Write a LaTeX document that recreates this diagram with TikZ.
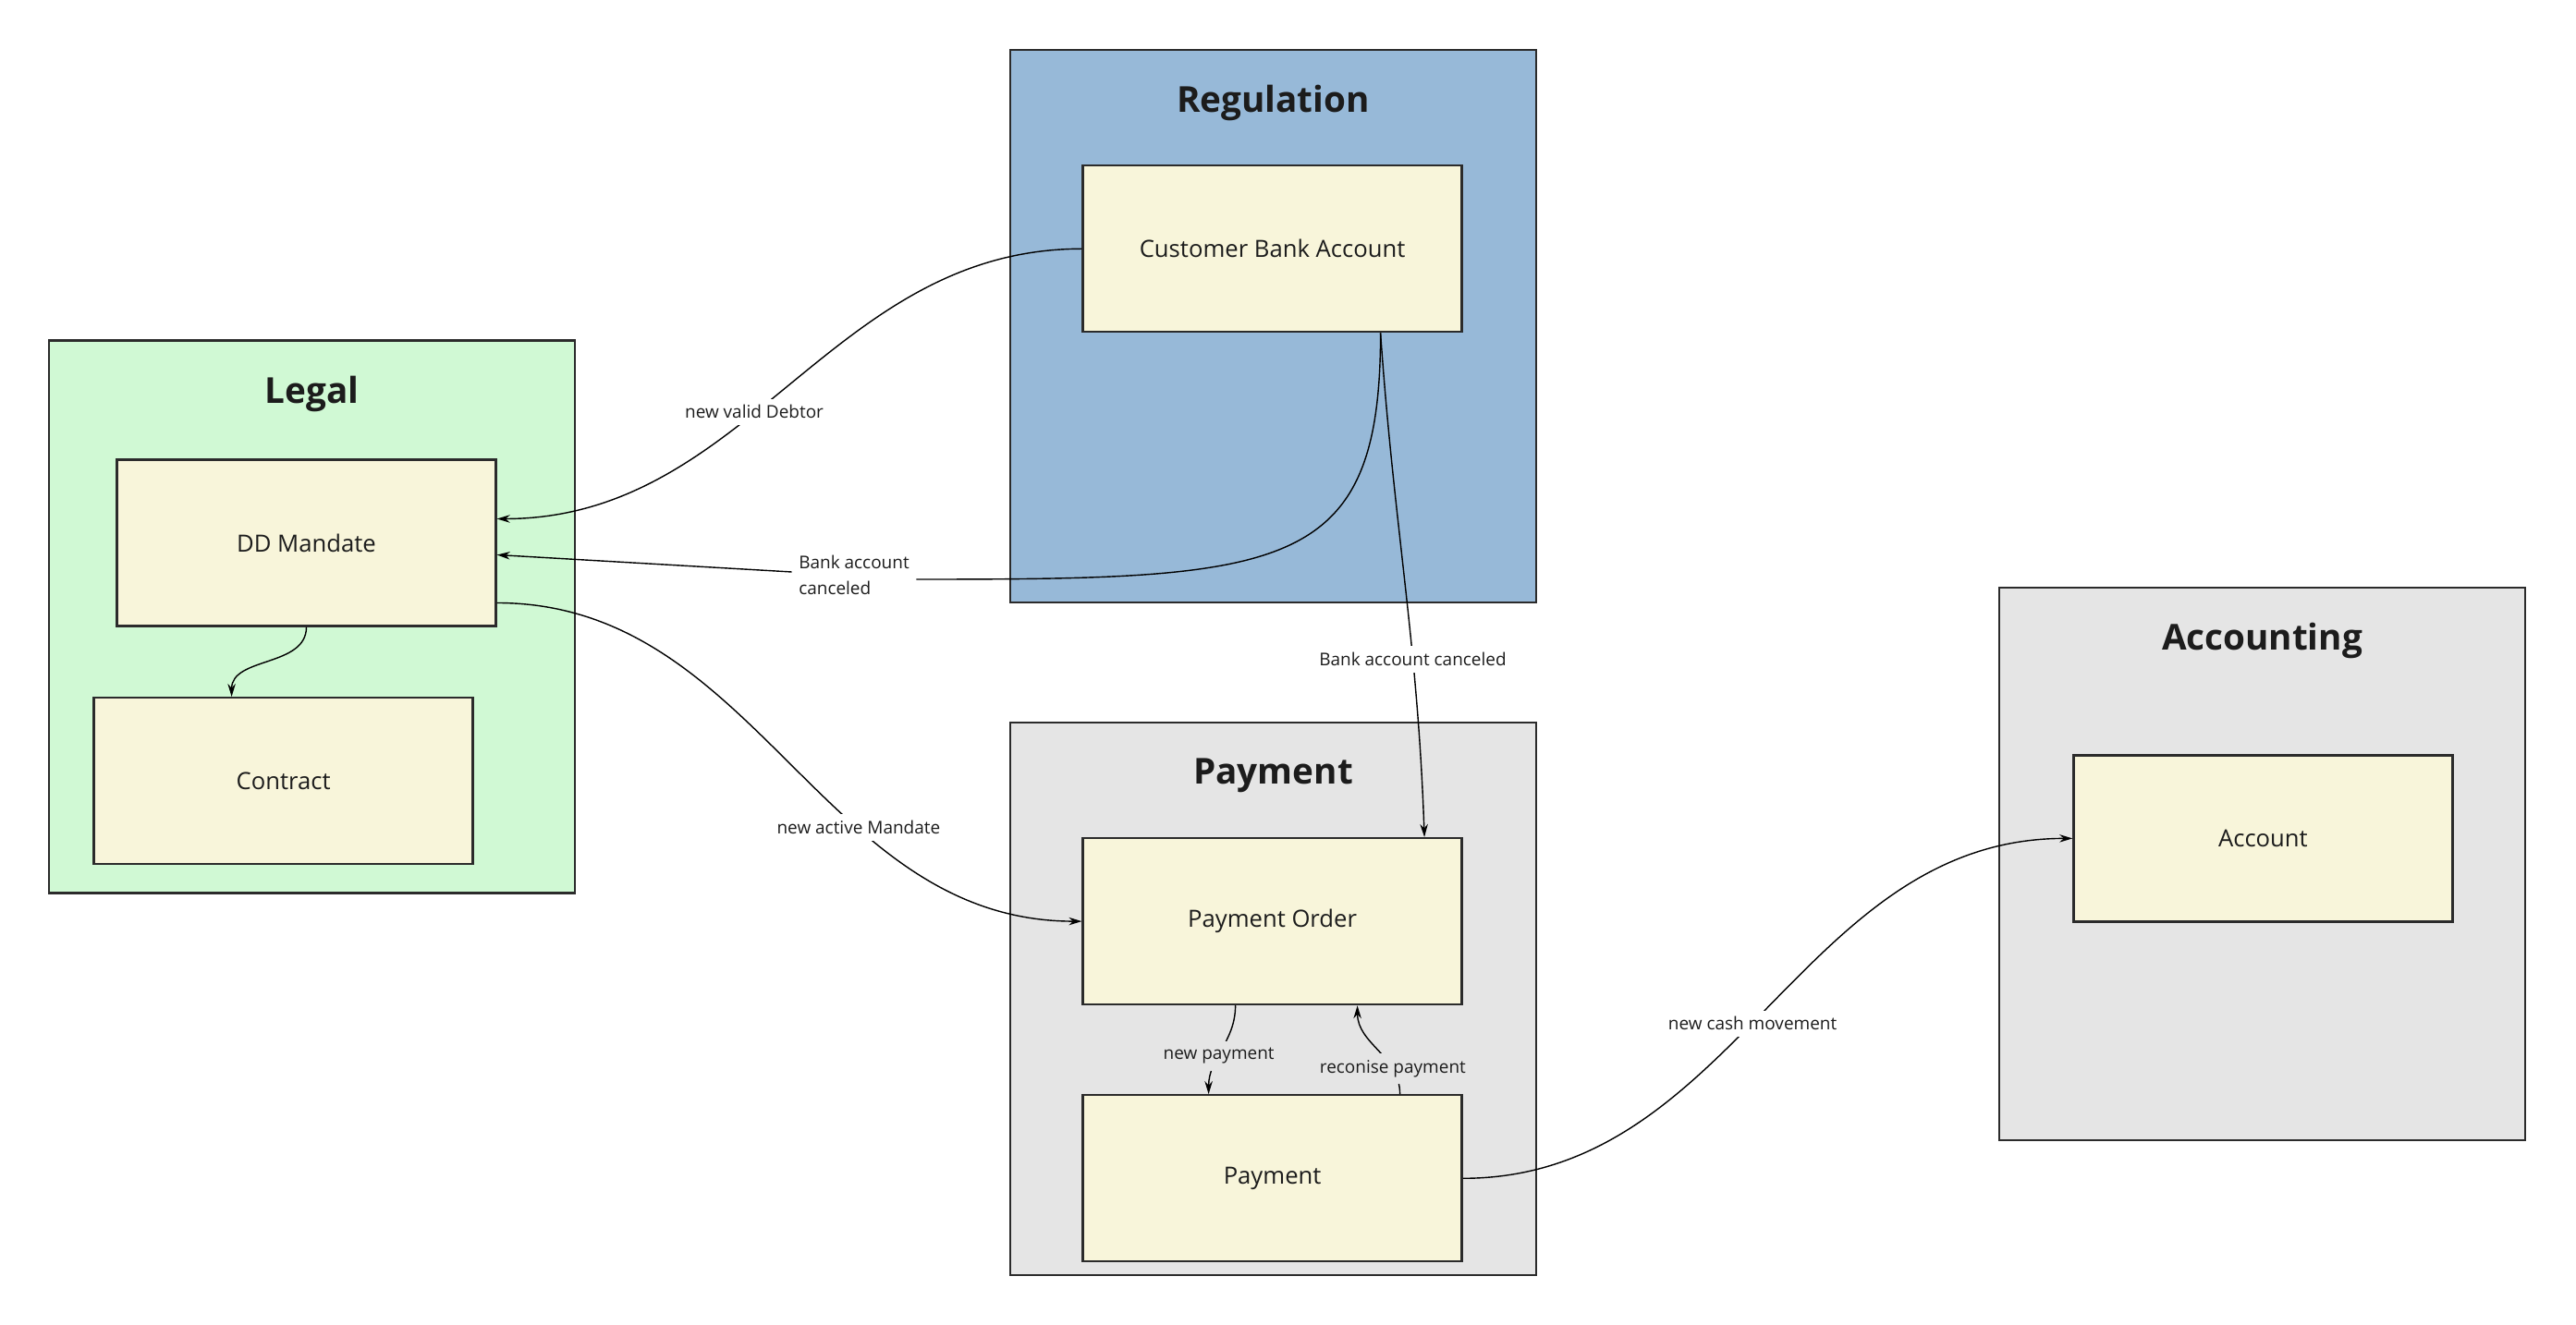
\documentclass[tikz,border=0pt]{standalone}
\usepackage{fontspec}
\setmainfont{Open Sans}
\usetikzlibrary{arrows.meta}

\definecolor{legalgreen}{HTML}{D0F9D4}
\definecolor{regblue}{HTML}{97B9D8}
\definecolor{domgray}{HTML}{E5E5E5}
\definecolor{entcream}{HTML}{F8F5DA}
\definecolor{edgegray}{HTML}{2B2B2B}
\definecolor{inkgray}{HTML}{1C1C1C}

\begin{document}
\begin{tikzpicture}[>={Stealth[length=4pt,width=2.4pt]}, line width=0.4pt,
    ctxbox/.style={draw=edgegray, line width=0.65pt, minimum width=5.69cm, minimum height=5.98cm, inner sep=0pt},
    ctxtitle/.style={text=inkgray, font=\fontsize{11}{13}\selectfont\bfseries},
    entbox/.style={draw=edgegray, line width=0.65pt, fill=entcream, text=inkgray, minimum width=4.1cm, minimum height=1.8cm, font=\fontsize{7.3}{9}\selectfont},
    lbl/.style={fill=white, text=inkgray, inner sep=2pt, font=\fontsize{5.4}{8}\selectfont}]
            \useasboundingbox (0,0) rectangle (27.87,14.34);
            % bounded contexts
            \node[ctxbox, fill=legalgreen] (legal) at (3.377, 7.666) {};
            \node[ctxbox, fill=regblue] (reg) at (13.775, 10.812) {};
            \node[ctxbox, fill=domgray] (paydom) at (13.775, 3.533) {};
            \node[ctxbox, fill=domgray] (acct) at (24.475, 4.991) {};
            \node[ctxtitle] (legalt) at ([yshift=-0.59cm]legal.north) {Legal};
            \node[ctxtitle] (regt) at ([yshift=-0.59cm]reg.north) {Regulation};
            \node[ctxtitle] (paydomt) at ([yshift=-0.59cm]paydom.north) {Payment};
            \node[ctxtitle] (acctt) at ([yshift=-0.59cm]acct.north) {Accounting};
            % entities
            \node[entbox] (dd) at (3.315, 8.465) {DD Mandate};
            \node[entbox] (ctr) at (3.066, 5.888) {Contract};
            \node[entbox] (cba) at (13.766, 11.647) {Customer Bank Account};
            \node[entbox] (po) at (13.766, 4.369) {Payment Order};
            \node[entbox] (pay) at (13.766, 1.587) {Payment};
            \node[entbox] (acc) at (24.484, 5.266) {Account};
            \node[lbl, align=left] (bacl) at (9.24, 8.12) {Bank account\\canceled};
            % events
            \draw[->] (cba.west) to[out=180, in=0] node[lbl, pos=0.57] {new valid Debtor} ([yshift=0.26cm]dd.east);
            \draw ([xshift=1.17cm]cba.south) to[out=-90, in=0, out distance=2.6cm, in distance=4cm] ([yshift=-0.05cm]bacl.east);
            \draw[->] ([yshift=0.03cm]bacl.west) -- ([yshift=-0.13cm]dd.east);
            \draw[->] ([xshift=1.17cm]cba.south) to[out=-86, in=92] node[lbl, pos=0.66] {Bank account canceled} ([xshift=1.645cm]po.north);
            \draw[->] ([yshift=-0.65cm]dd.east) to[out=0, in=180] node[lbl, pos=0.64] {new active Mandate} (po.west);
            \draw[->] (dd.south) to[out=-90, in=90] ([xshift=-0.56cm]ctr.north);
            \draw[->] ([xshift=-0.4cm]po.south) to[out=-90, in=90] node[lbl, fill=domgray, pos=0.58] {new payment} ([xshift=-0.69cm]pay.north);
            \draw[->] ([xshift=1.38cm]pay.north) to[out=90, in=-90] node[lbl, fill=domgray, pos=0.26] {reconise payment} ([xshift=0.92cm]po.south);
            \draw[->] (pay.east) to[out=0, in=180] node[lbl, pos=0.47] {new cash movement} (acc.west);
        \end{tikzpicture}
\end{document}
